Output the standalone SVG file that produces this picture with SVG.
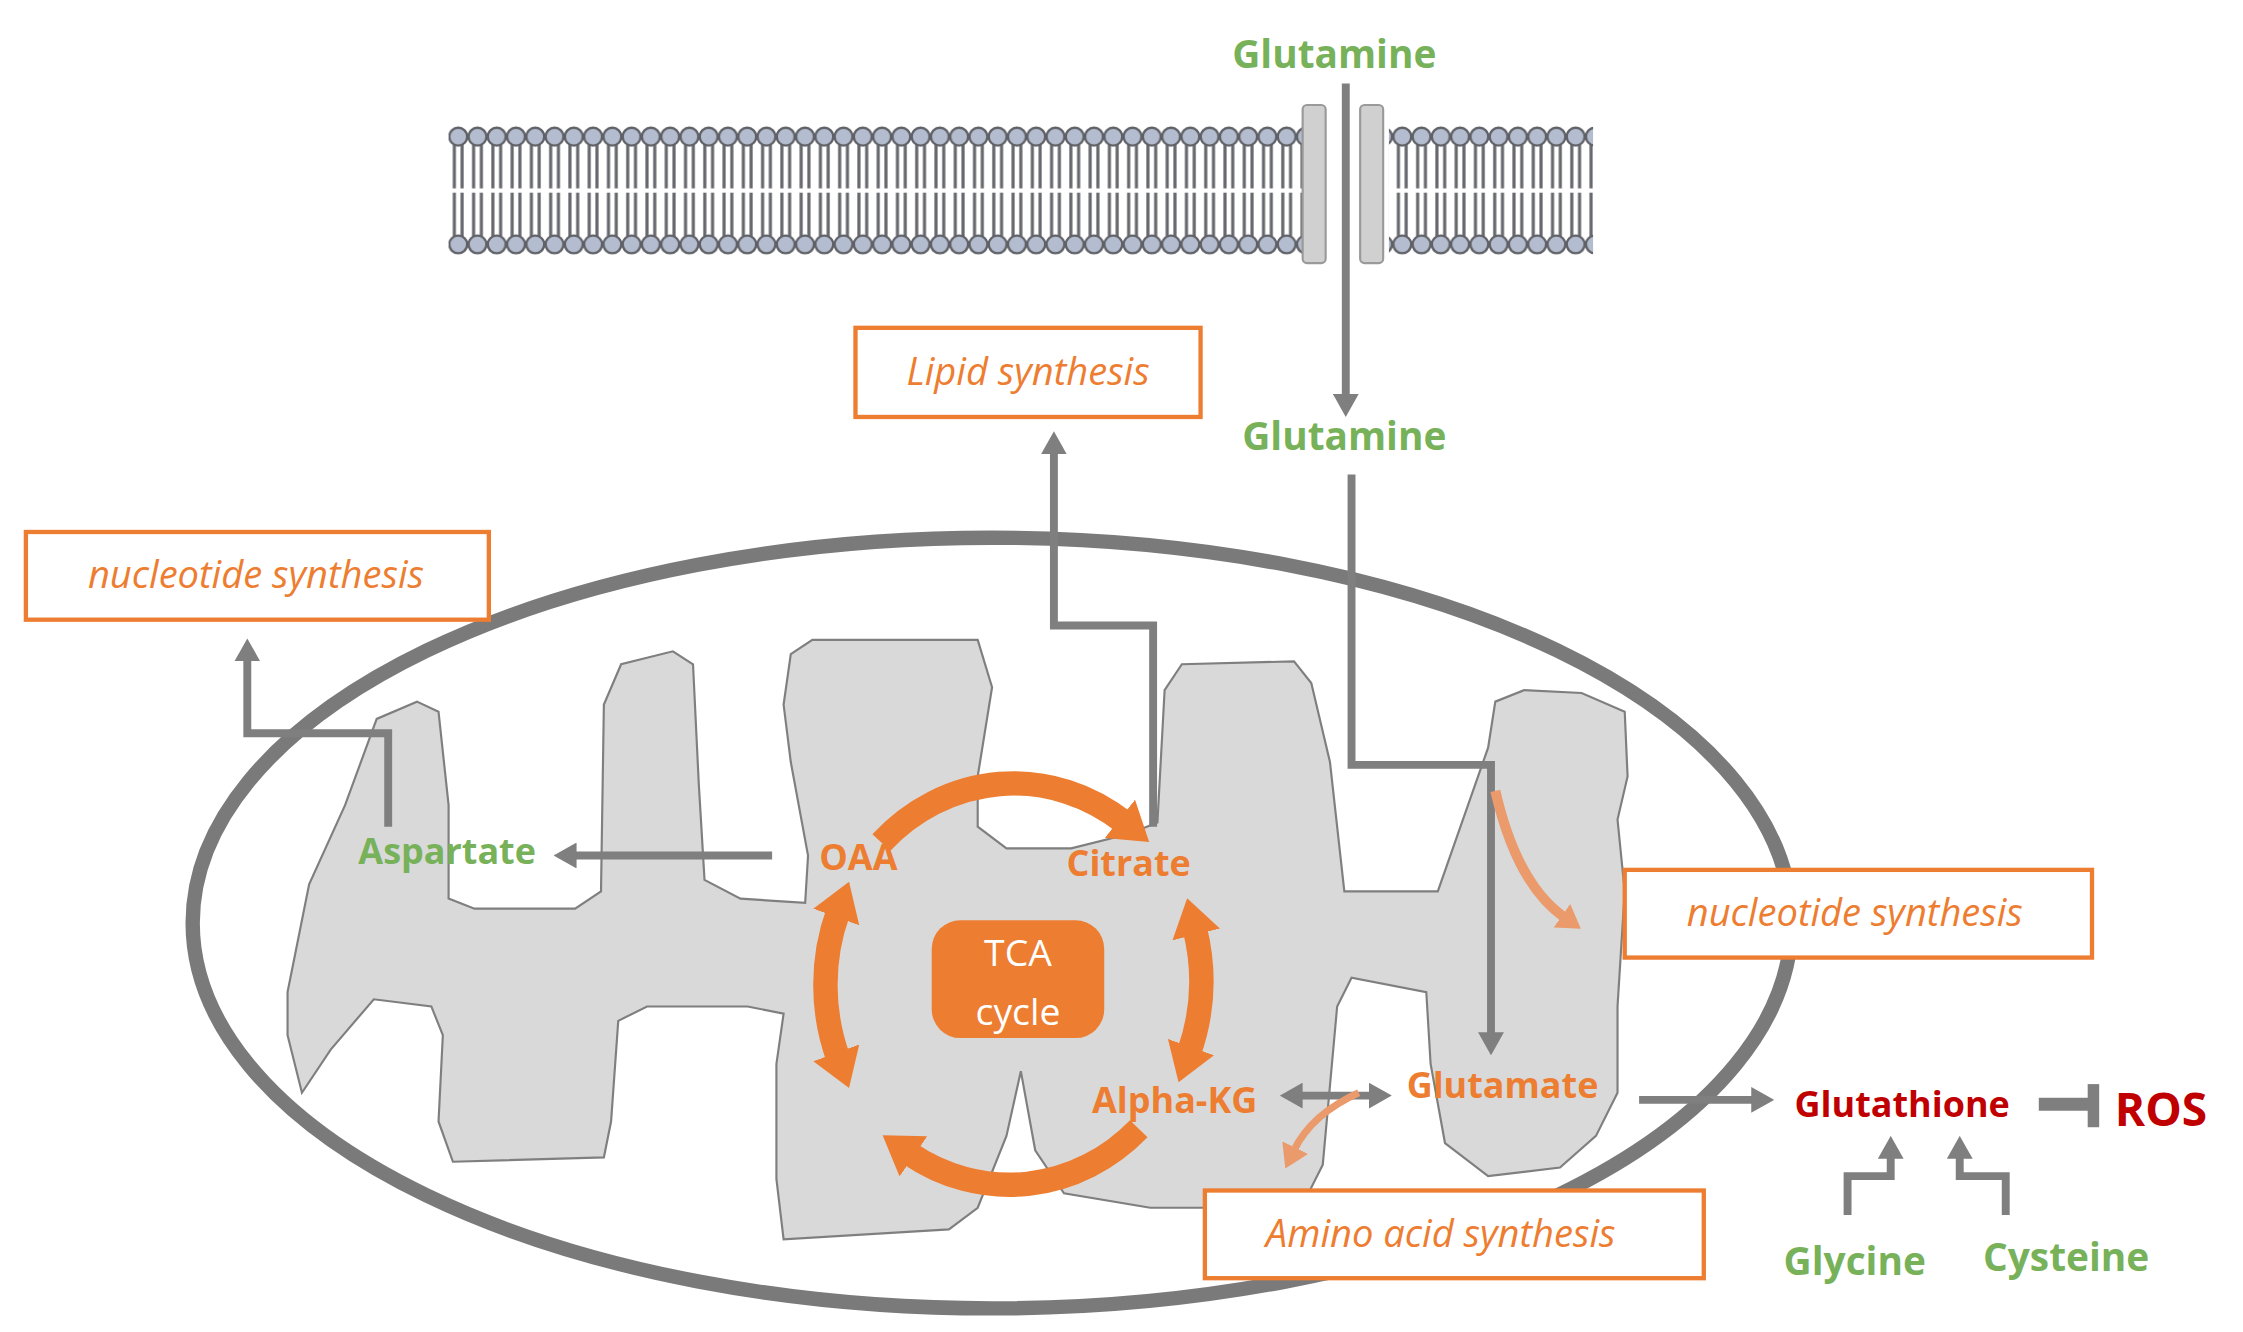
<svg xmlns="http://www.w3.org/2000/svg" width="2243" height="1332" viewBox="0 0 2243 1332">
<style>
.t{font-family:"Open Sans","Liberation Sans",sans-serif;font-weight:bold;text-anchor:middle}
.g{fill:#77b15a}.o{fill:#ed7d31}.r{fill:#c00000}
.bx{fill:#fff;stroke:#ed7d31;stroke-width:3}
.bt{font-family:"Open Sans","Liberation Sans",sans-serif;font-style:italic;font-size:26.5px;fill:#ed7d31;text-anchor:middle}
.c{fill:none;stroke:#7f7f7f;stroke-width:5.5}
.a{fill:none;stroke:#ed7d31;stroke-width:17}
</style>
<defs>
<marker id="ga" viewBox="0 0 16 18" refX="2" refY="9" markerWidth="16" markerHeight="18" markerUnits="userSpaceOnUse" orient="auto-start-reverse"><path d="M0,0L16,9L0,18z" fill="#7f7f7f"/></marker>
<marker id="oa" viewBox="0 0 26 34" refX="4" refY="17" markerWidth="26" markerHeight="34" markerUnits="userSpaceOnUse" orient="auto-start-reverse"><path d="M0,0L26,17L0,34z" fill="#ed7d31"/></marker>
<marker id="fa" viewBox="0 0 16 20" refX="2" refY="10" markerWidth="16" markerHeight="20" markerUnits="userSpaceOnUse" orient="auto"><path d="M0,0L16,10L0,20z" fill="#eb9a6c"/></marker>
<pattern id="mem" patternUnits="userSpaceOnUse" x="312" y="0" width="13.4" height="926">
<g stroke="#66686d" stroke-width="2.2" fill="none"><path d="M4,100V131M9.4,100V131M4,134V165M9.4,134V165"/></g>
<circle cx="6.7" cy="95" r="6.2" fill="#b4bdd0" stroke="#5f6166" stroke-width="1.6"/>
<circle cx="6.7" cy="170" r="6.2" fill="#b4bdd0" stroke="#5f6166" stroke-width="1.6"/>
</pattern>
</defs>
<rect width="2243" height="1332" fill="#fff"/>
<g transform="scale(1.4378)">
<g id="membrane">
<rect x="312" y="84" width="594" height="98" fill="url(#mem)"/>
<rect x="966" y="84" width="142" height="98" fill="url(#mem)"/>
<rect x="906" y="73" width="16" height="110" rx="3" fill="#d0d0d0" stroke="#9a9a9a" stroke-width="1.5"/>
<rect x="946" y="73" width="16" height="110" rx="3" fill="#d0d0d0" stroke="#9a9a9a" stroke-width="1.5"/>
</g>
<g id="mitochondrion">
<ellipse cx="690" cy="642" rx="556" ry="268" fill="#fff" stroke="#7a7a7a" stroke-width="10"/>
<path d="M200,690 L215,615 L240,560 L262,500 L290,488 L305,495 L312,560 L312,625 L330,632 L400,632 L418,620 L420,490 L432,462 L468,453 L482,462 L486,545 L490,612 L515,625 L560,628 L562,595 L550,530 L545,490 L550,455 L565,445 L680,445 L690,478 L680,540 L680,575 L700,590 L745,590 L785,580 L805,572 L810,480 L822,462 L900,460 L912,475 L925,530 L935,620 L1000,620 L1035,520 L1040,488 L1060,480 L1100,482 L1130,495 L1132,540 L1125,570 L1130,620 L1125,700 L1125,760 L1110,790 L1085,812 L1035,818 L1005,795 L995,740 L992,690 L940,680 L930,700 L920,810 L905,840 L800,840 L740,830 L720,800 L710,745 L700,790 L680,840 L660,855 L545,862 L540,820 L540,740 L545,705 L520,700 L450,700 L430,710 L425,780 L420,805 L315,808 L305,780 L308,720 L300,700 L260,695 L230,730 L210,760 L200,720 Z" fill="#d9d9d9" stroke="#7f7f7f" stroke-width="1.5"/>
</g>
<g id="connectors">
<path class="c" d="M936,58V276" marker-end="url(#ga)"/>
<path class="c" d="M940,330V532H1037V720" marker-end="url(#ga)"/>
<path class="c" d="M802,575V435H733V314" marker-end="url(#ga)"/>
<path class="c" d="M537,595H399" marker-end="url(#ga)"/>
<path class="c" d="M270,575V510H172V458" marker-end="url(#ga)"/>
<path class="c" d="M904,762H954" marker-start="url(#ga)" marker-end="url(#ga)"/>
<path class="c" d="M1140,765H1220" marker-end="url(#ga)"/>
<path d="M1418,768H1454" stroke="#7f7f7f" stroke-width="9"/>
<rect x="1452" y="754" width="8" height="30" fill="#7f7f7f"/>
<path class="c" d="M1285,845V818H1315V804" marker-end="url(#ga)"/>
<path class="c" d="M1395,845V818H1363V804" marker-end="url(#ga)"/>
<path d="M1040,550Q1055,615 1088,638" fill="none" stroke="#eb9a6c" stroke-width="7" marker-end="url(#fa)"/>
<path d="M945,760Q912,775 900,800" fill="none" stroke="#eb9a6c" stroke-width="5" marker-end="url(#fa)"/>
</g>
<g id="tca">
<path class="a" d="M613,586A130,140 0 0,1 782,572" marker-end="url(#oa)"/>
<path class="a" d="M831,646A130,140 0 0,1 827,732" marker-start="url(#oa)" marker-end="url(#oa)"/>
<path class="a" d="M583,736A130,140 0 0,1 583,634" marker-start="url(#oa)" marker-end="url(#oa)"/>
<path class="a" d="M792,785A130,140 0 0,1 632,802" marker-end="url(#oa)"/>
<rect x="648" y="640" width="120" height="82" rx="20" fill="#ed7d31"/>
<text x="708" y="672" font-family="Open Sans, Liberation Sans, sans-serif" font-size="26" text-anchor="middle" fill="#fff">TCA</text>
<text x="708" y="713" font-family="Open Sans, Liberation Sans, sans-serif" font-size="26" text-anchor="middle" fill="#fff">cycle</text>
</g>
<g id="labels">
<text class="t g" x="928" y="47" font-size="27">Glutamine</text>
<text class="t g" x="935" y="313" font-size="27">Glutamine</text>
<text class="t g" x="311" y="601" font-size="25">Aspartate</text>
<text class="t o" x="597" y="605" font-size="25">OAA</text>
<text class="t o" x="785" y="609" font-size="25">Citrate</text>
<text class="t o" x="817" y="774" font-size="25">Alpha-KG</text>
<text class="t o" x="1045" y="764" font-size="25">Glutamate</text>
<text class="t r" x="1323" y="777" font-size="25">Glutathione</text>
<text class="t r" x="1503" y="783" font-size="32">ROS</text>
<text class="t g" x="1290" y="887" font-size="27">Glycine</text>
<text class="t g" x="1437" y="884" font-size="27">Cysteine</text>
</g>
<g id="box-lipid"><rect class="bx" x="595" y="228" width="240" height="62"/><text class="bt" x="715" y="268">Lipid synthesis</text></g>
<g id="box-nuc-left"><rect class="bx" x="18" y="370" width="322" height="61"/><text class="bt" x="178" y="409">nucleotide synthesis</text></g>
<g id="box-nuc-right"><rect class="bx" x="1130" y="605" width="325" height="61"/><text class="bt" x="1290" y="644">nucleotide synthesis</text></g>
<g id="box-amino"><rect class="bx" x="838" y="828" width="347" height="61"/><text class="bt" x="1002" y="867">Amino acid synthesis</text></g>
</g>
</svg>
